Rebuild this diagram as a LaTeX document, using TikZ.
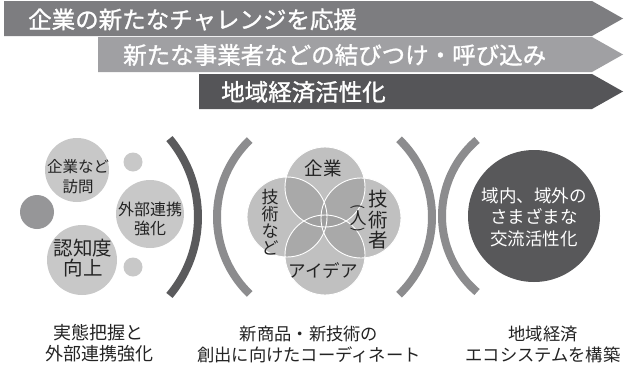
\documentclass[tikz,border=0pt]{standalone}
\usepackage{fontspec}
\newfontfamily\jp{Noto Sans CJK JP}
\newfontfamily\jpm[FakeBold=1.2]{Noto Sans CJK JP}
\definecolor{arrA}{RGB}{125,125,128}
\definecolor{arrB}{RGB}{160,160,163}
\definecolor{arrC}{RGB}{85,85,88}
\definecolor{circL}{RGB}{200,200,200}
\definecolor{circM}{RGB}{150,150,152}
\definecolor{brDark}{RGB}{90,90,92}
\definecolor{brGray}{RGB}{140,140,142}
\definecolor{vennc}{RGB}{156,156,156}
\definecolor{darkball}{RGB}{88,88,90}
\definecolor{txt}{RGB}{35,35,35}
\tikzset{
  arrtext/.style={font=\jpm\fontsize{23.5}{26}\selectfont, text=white, inner sep=0pt, anchor=west},
  ball/.style={circle, inner sep=0pt, draw=none},
  lbl/.style={align=center, inner sep=0pt, text=txt},
  bracket/.style={line width=8pt},
}
\begin{document}
\begin{tikzpicture}[x=1pt,y=-1pt]
\useasboundingbox (0,0) rectangle (637,370);
\fill[white] (0,0) rectangle (637,370);
% arrows
\fill[arrA] (4,1) -- (592,1) -- (623,18.5) -- (592,36) -- (4,36) -- cycle;
\fill[arrB] (98,37) -- (592,37) -- (623,54.5) -- (592,72) -- (98,72) -- cycle;
\fill[arrC] (199,74) -- (592,74) -- (623,91.5) -- (592,109) -- (199,109) -- cycle;
\node[arrtext] (t1) at (28,19.5) {企業の新たなチャレンジを応援};
\node[arrtext] (t2) at (123,55) {新たな事業者などの結びつけ・呼び込み};
\node[arrtext] (t3) at (221,92) {地域経済活性化};
% left group
\node[ball, minimum size=64pt, fill=circL] (cA) at (77,170) {};
\node[ball, minimum size=19pt, fill=circL] (cS1) at (133,162) {};
\node[ball, minimum size=34pt, fill=circM] (cD) at (37,212) {};
\node[ball, minimum size=68pt, fill=circL] (cB) at (150,214) {};
\node[ball, minimum size=70pt, fill=circL] (cC) at (82,260) {};
\node[ball, minimum size=19pt, fill=circL] (cS2) at (133,267) {};
\node[lbl, font=\jp\fontsize{15.5}{20}\selectfont] (tA) at (78,177) {企業など\\訪問};
\node[lbl, font=\jp\fontsize{16}{19}\selectfont] (tB) at (150,219) {外部連携\\強化};
\node[lbl, font=\jp\fontsize{19.5}{20}\selectfont] (tC) at (83,258) {認知度\\向上};
% brackets
\draw[bracket, brDark] (76,217) ++(-40:122) arc[start angle=-40, end angle=40, radius=122];
\draw[bracket, brGray] (324,217) ++(134:107) arc[start angle=134, end angle=226, radius=107];
\draw[bracket, brGray] (324,217) ++(-46:108) arc[start angle=-46, end angle=46, radius=108];
\draw[bracket, brGray] (542,216) ++(130.5:100) arc[start angle=130.5, end angle=229.5, radius=100];
% venn
\node[ball, minimum size=80pt, fill=vennc, fill opacity=0.635] (v1) at (325,187) {};
\node[ball, minimum size=80pt, fill=vennc, fill opacity=0.635] (v2) at (287,217) {};
\node[ball, minimum size=80pt, fill=vennc, fill opacity=0.635] (v3) at (361,218) {};
\node[ball, minimum size=80pt, fill=vennc, fill opacity=0.635] (v4) at (325,255) {};
\foreach \v in {v1,v2,v3,v4} \draw[white, line width=0.9pt] (\v.center) circle (40);
\node[lbl, font=\jp\fontsize{18.5}{20}\selectfont] (vt1) at (323,168) {企業};
\node[lbl, font=\jp\fontsize{17}{17}\selectfont] (vt2) at (270,222) {技\\術\\な\\ど};
\node[lbl, font=\jp\fontsize{19.5}{20.5}\selectfont] (vt3) at (378,220) {技\\術\\者};
\node[lbl, font=\jp\fontsize{17}{17}\selectfont] (vt3b) at (358,218) {人};
\node[lbl, font=\jp\fontsize{14}{14}\selectfont, rotate=-90] (pa) at (358,207) {(};
\node[lbl, font=\jp\fontsize{14}{14}\selectfont, rotate=-90] (pb) at (358,230) {)};
\node[lbl, font=\jp\fontsize{17.5}{20}\selectfont] (vt4) at (323,271) {アイデア};
% right ball
\node[ball, minimum size=132pt, fill=darkball] (cR) at (534,216) {};
\node[lbl, text=white, font=\jp\fontsize{17.5}{21.5}\selectfont] (tR) at (534,217) {域内、域外の\\さまざまな\\交流活性化};
% bottom labels
\node[lbl, font=\jp\fontsize{18}{20.5}\selectfont] (b1) at (99,343) {実態把握と\\外部連携強化};
\node[lbl, font=\jp\fontsize{17.3}{21}\selectfont] (b2) at (309,344) {新商品・新技術の\\創出に向けたコーディネート};
\node[lbl, font=\jp\fontsize{17.3}{21}\selectfont] (b3) at (543,344) {地域経済\\エコシステムを構築};
\end{tikzpicture}
\end{document}
